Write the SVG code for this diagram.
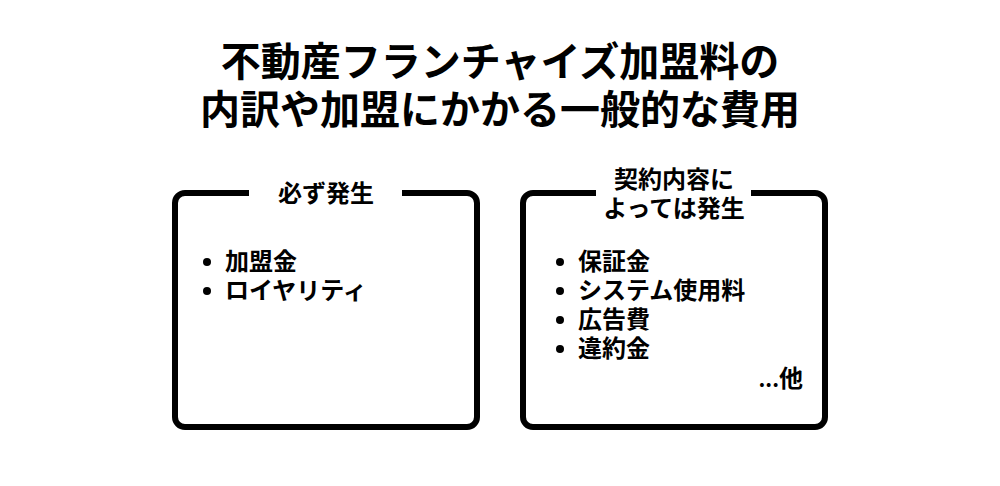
<svg xmlns="http://www.w3.org/2000/svg" width="1000" height="486" viewBox="0 0 1000 486">
<style>
text{font-family:"Noto Sans CJK JP","Noto Sans",sans-serif;font-weight:700;fill:#000}
.t{font-size:40px;text-anchor:middle}
.h{font-size:24px;text-anchor:middle}
.l{font-size:24px}
.box{fill:#fff;stroke:#000;stroke-width:6}
.gap{fill:#fff}
</style>
<rect width="1000" height="486" fill="#fff"/>
<g id="title">
<text class="t" x="500" y="76">不動産フランチャイズ加盟料の</text>
<text class="t" x="500" y="124">内訳や加盟にかかる一般的な費用</text>
</g>
<g id="left">
<rect class="box" x="175" y="193" width="302" height="234" rx="10"/>
<rect class="gap" x="249" y="180" width="153" height="26"/>
<text class="h" x="326" y="202">必ず発生</text>
<circle cx="207" cy="262" r="4"/><text class="l" x="225" y="270">加盟金</text>
<circle cx="207" cy="291" r="4"/><text class="l" x="225" y="299">ロイヤリティ</text>
</g>
<g id="right">
<rect class="box" x="523" y="193" width="302" height="234" rx="10"/>
<rect class="gap" x="596" y="180" width="155" height="30"/>
<text class="h" x="674" y="188">契約内容に</text>
<text class="h" x="674" y="217">よっては発生</text>
<circle cx="560" cy="262" r="4"/><text class="l" x="578" y="270">保証金</text>
<circle cx="560" cy="291" r="4"/><text class="l" x="578" y="299">システム使用料</text>
<circle cx="560" cy="320" r="4"/><text class="l" x="578" y="328">広告費</text>
<circle cx="560" cy="349" r="4"/><text class="l" x="578" y="357">違約金</text>
<text class="l" x="803" y="387" text-anchor="end"><tspan font-size="21">...</tspan>他</text>
</g>
</svg>
